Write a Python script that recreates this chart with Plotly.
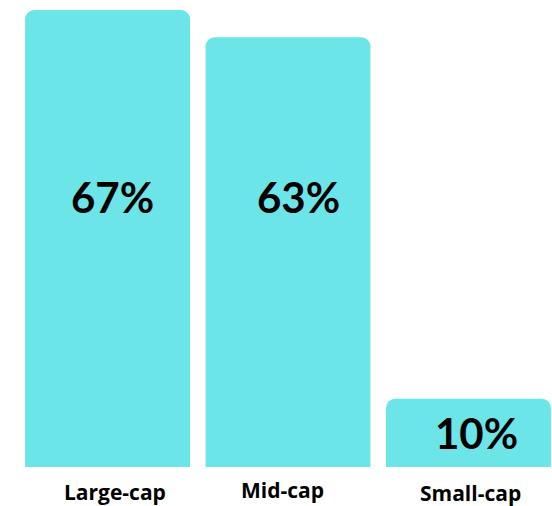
import plotly.graph_objects as go

categories = ["Large-cap", "Mid-cap", "Small-cap"]
values = [67, 63, 10]
value_labels = ["67%", "63%", "10%"]

bar_color = "#6BE5E8"
value_font = "Lato, 'Open Sans', sans-serif"
cat_font = "'Open Sans', Lato, sans-serif"

fig = go.Figure()
fig.add_trace(go.Bar(
    x=list(range(len(categories))),
    y=values,
    width=0.914,
    marker=dict(color=bar_color, line=dict(width=0)),
    hoverinfo="skip",
))

# value labels inside bars (tall bars share a common label height)
label_y = [39.6 if v > 40 else v / 2 for v in values]
value_xshift = [5, 10, 8]
for i, (lab, ly) in enumerate(zip(value_labels, label_y)):
    fig.add_annotation(x=i, y=ly, text=f"<b>{lab}</b>", showarrow=False,
                       xshift=value_xshift[i],
                       font=dict(family=value_font, size=42, color="#000000"))

# category labels below bars
cat_xshift = [7, -6, 2]
cat_yshift = [0, 2, -1]
for i, cat in enumerate(categories):
    fig.add_annotation(x=i, y=0, yref="y", text=f"<b>{cat}</b>", showarrow=False,
                       xshift=cat_xshift[i], yshift=-25 + cat_yshift[i],
                       font=dict(family=cat_font, size=21, color="#000000"))

fig.update_layout(
    width=552, height=506,
    margin=dict(l=0, r=0, t=0, b=39),
    plot_bgcolor="white", paper_bgcolor="white",
    showlegend=False,
    barcornerradius=9,
    hovermode=False,
    xaxis=dict(range=[-0.596, 2.463], visible=False),
    yaxis=dict(range=[0, 68.47], visible=False),
)

fig.write_html("out.html",
               config={"displayModeBar": False, "staticPlot": True},
               post_script="document.body.style.margin='0';document.body.style.overflow='hidden';")
